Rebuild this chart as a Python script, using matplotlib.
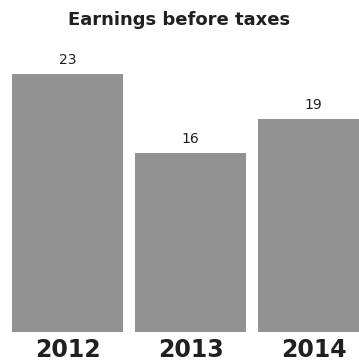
import matplotlib.pyplot as plt

years = ['2012', '2013', '2014']
earnings = [23, 16, 19]

plt.rcParams['font.family'] = ['DejaVu Sans']

fig = plt.figure(figsize=(3.59, 3.63), dpi=100)
ax = fig.add_axes([0, 31 / 363, 1, 272 / 363])

x = range(len(years))
ax.bar(x, earnings, width=111 / 123, color='#929292')

# value labels above the bars
for i, v in enumerate(earnings):
    ax.annotate(str(v), (i, v), xytext=(0, 5), textcoords='offset points',
                ha='center', va='bottom', fontsize=10, color='#231f20')

ax.set_xlim(-67.5 / 123, -67.5 / 123 + 359 / 123)
ax.set_ylim(0, 272 / 11.21)
ax.axis('off')

for i, y in enumerate(years):
    fig.text((67.5 + 123 * i) / 359, 6 / 363, y, ha='center', va='baseline',
             fontsize=17, fontweight='bold', color='#231f20')

fig.text(0.5, 1 - 20 / 363, 'Earnings before taxes', ha='center', va='center',
         fontsize=13, fontweight='bold', color='#231f20')

fig.savefig('out.png', dpi=100)
